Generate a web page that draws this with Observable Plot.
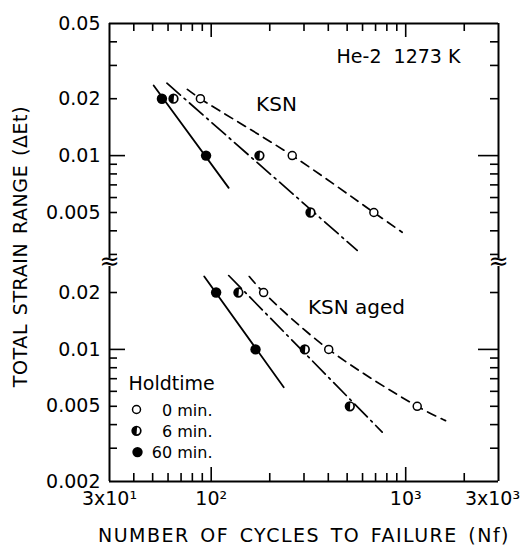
<!DOCTYPE html>
<html><head><meta charset="utf-8">
<script src="https://cdn.jsdelivr.net/npm/d3@7"></script>
<script src="https://cdn.jsdelivr.net/npm/@observablehq/plot@0.6"></script>
<style>
html,body{margin:0;padding:0;background:#fff;}
#chart{position:relative;width:520px;height:546px;}
#chart svg{position:absolute;left:0;top:0;}
</style></head><body><div id="chart"></div>
<script>
// ---- axis data ----
const xDomain = [30, 3000];
const xTickValues = [30, 100, 1000, 3000];
const xTickLabels = ["3x10\u00b9", "10\u00b2", "10\u00b3", "3x10\u00b3"];
const xMinorTicks = [40, 50, 60, 70, 80, 90, 200, 300, 400, 500, 600, 700, 800, 900, 2000];
const xMajorTicks = [100, 1000];

const ksnDomain = [0.002855, 0.05];
const ksnTickValues = [0.05, 0.02, 0.01, 0.005];
const ksnTickLabels = ["0.05", "0.02", "0.01", "0.005"];
const ksnMinorTicks = [0.04, 0.03, 0.02, 0.009, 0.008, 0.007, 0.006, 0.005, 0.004, 0.003];

const agedDomain = [0.002, 0.02746];
const agedTickValues = [0.02, 0.01, 0.005, 0.002];
const agedTickLabels = ["0.02", "0.01", "0.005", "0.002"];
const agedMinorTicks = [0.02, 0.009, 0.008, 0.007, 0.006, 0.005, 0.004, 0.003];
const yMajorTicks = [0.01];

// ---- data: KSN ----
const ksnN0 = [88, 261, 686],   ksnE0 = [0.02, 0.01, 0.005];
const ksnN6 = [64, 177, 324],   ksnE6 = [0.02, 0.01, 0.005];
const ksnN60 = [55.8, 94.1],    ksnE60 = [0.02, 0.01];
const ksnFitN0 = [75.4, 88, 261, 686, 959], ksnFitE0 = [0.0224, 0.02, 0.01, 0.005, 0.00393];
const ksnFitN6 = [59.2, 563],   ksnFitE6 = [0.02416, 0.00315];
const ksnFitN60 = [50.6, 123],  ksnFitE60 = [0.0235, 0.00675];

// ---- data: KSN aged ----
const agedN0 = [186, 402, 1146], agedE0 = [0.02, 0.01, 0.005];
const agedN6 = [138, 303, 516],  agedE6 = [0.02, 0.01, 0.005];
const agedN60 = [106, 169],      agedE60 = [0.02, 0.01];
const agedFitN0 = [157, 186, 402, 1146, 1602], agedFitE0 = [0.0243, 0.02, 0.01, 0.005, 0.0042];
const agedFitN6 = [123, 757],    agedFitE6 = [0.0246, 0.00365];
const agedFitN60 = [92.1, 236],  agedFitE60 = [0.0243, 0.00631];

const legendTitle = "Holdtime";
const legendLabels = ["0 min.", "6 min.", "60 min."];
const xTitle = "NUMBER OF CYCLES TO FAILURE (Nf)";
const yTitle = "TOTAL STRAIN RANGE (\u0394Et)";

// ---- helpers ----
const rows = (N, E) => N.map((n, i) => ({n, e: E[i]}));
const halfLeft = {
  draw(ctx, size) {
    const r = Math.sqrt(size / Math.PI);
    ctx.moveTo(0.6, -r);
    ctx.arc(0, 0, r, -Math.PI / 2, Math.PI / 2, true);
    ctx.closePath();
  }
};
const FONT = "DejaVu Sans";
const W = 520, H = 546, ML = 109, MR = 22;
const FW = W - ML - MR;
const RS = {stroke: "black", strokeWidth: 1.6};

function markerMarks(N0, E0, N6, E6, N60, E60) {
  return [
    Plot.dot(rows(N0, E0), {x: "n", y: "e", r: 4, fill: "white", stroke: "black", strokeWidth: 1.5}),
    Plot.dot(rows(N6, E6), {x: "n", y: "e", r: 4.3, fill: "white", stroke: "black", strokeWidth: 1.7}),
    Plot.dot(rows(N6, E6), {x: "n", y: "e", r: 4.3, symbol: halfLeft, fill: "black"}),
    Plot.dot(rows(N60, E60), {x: "n", y: "e", r: 5.2, fill: "black"})
  ];
}
function fitMarks(fN0, fE0, fN6, fE6, fN60, fE60) {
  return [
    Plot.line(rows(fN0, fE0), {x: "n", y: "e", curve: "catmull-rom", stroke: "black", strokeWidth: 1.7, strokeDasharray: "9,6"}),
    Plot.line(rows(fN6, fE6), {x: "n", y: "e", stroke: "black", strokeWidth: 1.7, strokeDasharray: "18,5,2,5"}),
    Plot.line(rows(fN60, fE60), {x: "n", y: "e", stroke: "black", strokeWidth: 1.8})
  ];
}
// inward frame ticks as short rules; tick length converted from pixels to log-scale factors
function frameTickMarks(minor, yDom, frameH, side) {
  const fx = px => Math.pow(10, px * Math.log10(xDomain[1] / xDomain[0]) / FW);
  const fy = px => Math.pow(10, px * Math.log10(yDom[1] / yDom[0]) / frameH);
  const [x0, x1] = xDomain;
  const yEdge = side === "top" ? yDom[1] : yDom[0];
  const yIn = px => side === "top" ? yEdge / fy(px) : yEdge * fy(px);
  return [
    Plot.ruleY(minor, {y: d => d, x1: x0, x2: x0 * fx(8), ...RS}),
    Plot.ruleY(minor, {y: d => d, x1: x1 / fx(8), x2: x1, ...RS}),
    Plot.ruleY(yMajorTicks, {y: d => d, x1: x0, x2: x0 * fx(16), ...RS}),
    Plot.ruleY(yMajorTicks, {y: d => d, x1: x1 / fx(20), x2: x1, ...RS}),
    Plot.ruleX(xMinorTicks, {x: d => d, y1: yEdge, y2: yIn(8), ...RS}),
    Plot.ruleX(xMajorTicks, {x: d => d, y1: yEdge, y2: yIn(14), ...RS})
  ];
}

// ---- top panel: KSN ----
const TOP_MT = 23, TOP_MB = H - 258;
const topPlot = Plot.plot({
  width: W, height: H,
  marginLeft: ML, marginRight: MR, marginTop: TOP_MT, marginBottom: TOP_MB,
  style: {fontFamily: FONT, fontSize: "19px", background: "transparent", color: "black"},
  x: {type: "log", domain: xDomain, axis: null},
  y: {type: "log", domain: ksnDomain},
  marks: [
    Plot.ruleY([ksnDomain[1]], {stroke: "black", strokeWidth: 2}),
    Plot.ruleX(xDomain, {x: d => d, stroke: "black", strokeWidth: 2}),
    ...frameTickMarks(ksnMinorTicks, ksnDomain, H - TOP_MT - TOP_MB, "top"),
    Plot.axisY({ticks: ksnTickValues, tickSize: 0, tickPadding: 9, label: null,
      tickFormat: d => ksnTickLabels[ksnTickValues.indexOf(d)]}),
    ...fitMarks(ksnFitN0, ksnFitE0, ksnFitN6, ksnFitE6, ksnFitN60, ksnFitE60),
    ...markerMarks(ksnN0, ksnE0, ksnN6, ksnE6, ksnN60, ksnE60),
    Plot.text(["He-2\u00a0\u00a01273 K"], {frameAnchor: "top-left", dx: 289, dy: 33, fontSize: 19, textAnchor: "middle", lineAnchor: "middle"}),
    Plot.text(["KSN"], {frameAnchor: "top-left", dx: 167, dy: 81, fontSize: 20, textAnchor: "middle", lineAnchor: "middle"})
  ]
});

// ---- bottom panel: KSN aged ----
const BOT_MT = 266, BOT_MB = 65;
const bottomPlot = Plot.plot({
  width: W, height: H,
  marginLeft: ML, marginRight: MR, marginTop: BOT_MT, marginBottom: BOT_MB,
  style: {fontFamily: FONT, fontSize: "19px", background: "transparent", color: "black"},
  x: {type: "log", domain: xDomain},
  y: {type: "log", domain: agedDomain},
  marks: [
    Plot.ruleY([agedDomain[0]], {stroke: "black", strokeWidth: 2}),
    Plot.ruleX(xDomain, {x: d => d, stroke: "black", strokeWidth: 2}),
    Plot.text(xDomain, {x: d => d, frameAnchor: "top", dy: -5, text: () => "\u2248", fontSize: 24, lineAnchor: "middle"}),
    ...frameTickMarks(agedMinorTicks, agedDomain, H - BOT_MT - BOT_MB, "bottom"),
    Plot.axisY({ticks: agedTickValues, tickSize: 0, tickPadding: 9, label: null,
      tickFormat: d => agedTickLabels[agedTickValues.indexOf(d)]}),
    Plot.axisX({ticks: xTickValues.slice(0, 3), tickSize: 0, tickPadding: 10, label: null,
      tickFormat: d => xTickLabels[xTickValues.indexOf(d)]}),
    Plot.axisX({ticks: xTickValues.slice(3), tickSize: 0, tickPadding: 10, label: null, dx: -6,
      tickFormat: d => xTickLabels[xTickValues.indexOf(d)]}),
    ...fitMarks(agedFitN0, agedFitE0, agedFitN6, agedFitE6, agedFitN60, agedFitE60),
    ...markerMarks(agedN0, agedE0, agedN6, agedE6, agedN60, agedE60),
    Plot.text(["KSN aged"], {frameAnchor: "top-left", dx: 247, dy: 41, fontSize: 20, textAnchor: "middle", lineAnchor: "middle"}),
    // legend
    Plot.text([legendTitle], {frameAnchor: "top-left", dx: 19, dy: 117, fontSize: 19, textAnchor: "start", lineAnchor: "middle"}),
    ...legendLabels.map((lab, i) => Plot.text([lab], {frameAnchor: "top-left", dx: 103, dy: 144 + 21.3 * i, fontSize: 16, textAnchor: "end", lineAnchor: "middle"})),
    Plot.dot([0], {frameAnchor: "top-left", dx: 27, dy: 143, r: 4, fill: "white", stroke: "black", strokeWidth: 1.5}),
    Plot.dot([0], {frameAnchor: "top-left", dx: 27, dy: 164.3, r: 4.3, fill: "white", stroke: "black", strokeWidth: 1.7}),
    Plot.dot([0], {frameAnchor: "top-left", dx: 27, dy: 164.3, r: 4.3, symbol: halfLeft, fill: "black"}),
    Plot.dot([0], {frameAnchor: "top-left", dx: 28, dy: 185.6, r: 5.2, fill: "black"}),
    // axis titles
    Plot.text([xTitle], {frameAnchor: "bottom", dy: 54, fontSize: 19, textAnchor: "middle", lineAnchor: "middle"}),
    Plot.text([yTitle], {frameAnchor: "left", dx: -88.5, dy: -127.5, rotate: -90, fontSize: 19, textAnchor: "middle", lineAnchor: "middle"})
  ]
});

const host = document.getElementById("chart");
host.appendChild(topPlot);
host.appendChild(bottomPlot);
// widen the axis titles' letter spacing like the original typesetting
bottomPlot.querySelectorAll("text").forEach(t => {
  if (t.textContent === xTitle) { t.style.letterSpacing = "1.5px"; t.style.wordSpacing = "3px"; }
  if (t.textContent === yTitle) { t.style.letterSpacing = "0.6px"; t.style.wordSpacing = "2px"; }
});
</script></body></html>
